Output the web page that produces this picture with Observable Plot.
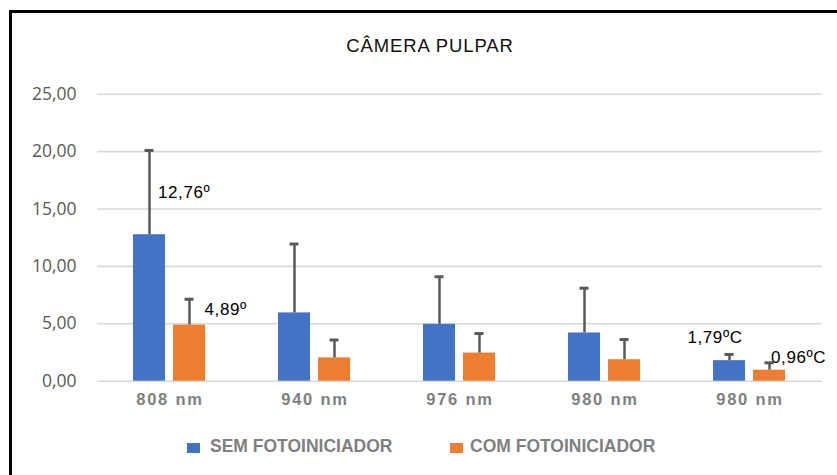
<!DOCTYPE html>
<html>
<head>
<meta charset="utf-8">
<script src="https://cdn.jsdelivr.net/npm/d3@7"></script>
<script src="https://cdn.jsdelivr.net/npm/@observablehq/plot@0.6"></script>
<style>
  html, body { margin: 0; padding: 0; background: #fff; }
  #wrap { position: relative; width: 837px; height: 475px; overflow: hidden; background: #fff; font-family: "Liberation Sans", Arial, sans-serif; }
  #frame { position: absolute; left: 9px; top: 10px; width: 840px; height: 480px; border-top: 3px solid #000; border-left: 3px solid #000; box-sizing: border-box; pointer-events: none; z-index: 3; }
  #title { position: absolute; left: 0; width: 860px; top: 37px; text-align: center; font-size: 18.5px; line-height: 1; letter-spacing: 0.9px; color: #111; white-space: nowrap; }
  #chart { position: absolute; left: 0; top: 60px; }
  .leg { position: absolute; top: 438px; font-size: 17.5px; line-height: 1; font-weight: bold; color: #7f7f7f; white-space: nowrap; }
  .sw { position: absolute; width: 13px; height: 10px; top: 443px; }
  #chart g[aria-label^="y-axis"] text { font-family: "Open Sans", sans-serif; font-size: 17.5px; fill: #595959; }
  #chart g[aria-label^="fx-axis"] text { font-family: "Liberation Sans", Arial, sans-serif; font-size: 16.5px; font-weight: bold; letter-spacing: 1.8px; fill: #7f7f7f; }
  #chart g[aria-label="text"] text { letter-spacing: 0.6px; }
</style>
</head>
<body>
<div id="wrap">
  <div id="title">CÂMERA PULPAR</div>
  <div id="chart"></div>
  <div id="legend"></div>
  <div id="frame"></div>
</div>
<script>
const categories = ["808 nm", "940 nm", "976 nm", "980 nm", "980 nm"];
const series = ["SEM FOTOINICIADOR", "COM FOTOINICIADOR"];
const semMean = [12.76, 5.95, 4.95, 4.20, 1.79];
const semSD   = [7.34, 6.00, 4.15, 3.90, 0.54];
const comMean = [4.89, 2.03, 2.45, 1.87, 0.96];
const comSD   = [2.25, 1.56, 1.70, 1.76, 0.64];
const semLabels = ["12,76º", "", "", "", "1,79ºC"];
const comLabels = ["4,89º", "", "", "", "0,96ºC"];
const yTicks = [0, 5, 10, 15, 20, 25];
const colors = ["#4472C4", "#ED7D31"];

const rows = [];
categories.forEach((c, i) => {
  rows.push({g: i, series: series[0], mean: semMean[i], sd: semSD[i], label: semLabels[i]});
  rows.push({g: i, series: series[1], mean: comMean[i], sd: comSD[i], label: comLabels[i]});
});

// label placement offsets (styling, not data)
const labelOffsets = {
  "0|SEM FOTOINICIADOR": {dx: 8.5, dy: -41.7, anchor: "start"},
  "0|COM FOTOINICIADOR": {dx: 15, dy: -15.6, anchor: "start"},
  "4|SEM FOTOINICIADOR": {dx: -14.5, dy: -22.7, anchor: "middle"},
  "4|COM FOTOINICIADOR": {dx: 1.5, dy: -12.7, anchor: "start"}
};

const labelMarks = rows.filter(r => r.label).map(r => {
  const o = labelOffsets[r.g + "|" + r.series];
  return Plot.text([r], {fx: "g", x: "series", y: "mean", text: "label",
    dx: o.dx, dy: o.dy, textAnchor: o.anchor, fontSize: 17, fill: "#000"});
});

const plot = Plot.plot({
  width: 837,
  height: 360,
  marginTop: 33.7,
  marginBottom: 39.3,
  marginLeft: 96,
  marginRight: 15,
  style: {background: "transparent", fontFamily: "Liberation Sans, Arial, sans-serif", overflow: "visible"},
  fx: {domain: d3.range(categories.length), padding: 0, tickFormat: i => categories[i], tickSize: 0, tickPadding: 12, label: null, axis: "bottom"},
  x: {domain: series, paddingInner: 0.195, paddingOuter: 0.868, axis: null},
  y: {domain: [0, 25], ticks: yTicks, tickFormat: d => d.toFixed(2).replace(".", ","), tickSize: 0, tickPadding: 21, label: null},
  color: {domain: series, range: colors},
  marks: [
    Plot.ruleY(yTicks, {stroke: "#d9d9d9", strokeWidth: 1.6}),
    Plot.barY(rows, {fx: "g", x: "series", y: "mean", fill: "series"}),
    Plot.ruleX(rows, {fx: "g", x: "series", y1: "mean", y2: d => d.mean + d.sd, stroke: "#595959", strokeWidth: 2.5}),
    Plot.tickY(rows, {fx: "g", x: "series", y: d => d.mean + d.sd, stroke: "#595959", strokeWidth: 3, insetLeft: 11.5, insetRight: 11.5}),
    ...labelMarks
  ]
});
document.getElementById("chart").appendChild(plot);

// legend
const legend = document.getElementById("legend");
const legPos = [{sw: 187, tx: 210}, {sw: 450, tx: 470}];
series.forEach((s, i) => {
  const sw = document.createElement("div");
  sw.className = "sw";
  sw.style.left = legPos[i].sw + "px";
  sw.style.background = colors[i];
  legend.appendChild(sw);
  const t = document.createElement("div");
  t.className = "leg";
  t.style.left = legPos[i].tx + "px";
  t.textContent = s;
  legend.appendChild(t);
});
</script>
</body>
</html>
